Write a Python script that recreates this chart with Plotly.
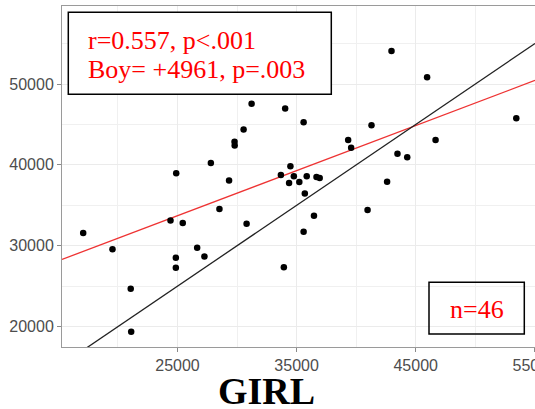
import numpy as np
import plotly.graph_objects as go

# Paired incomes: girl (x) vs boy (y)
girl = [17080, 19540, 21070, 21110, 24410, 24860, 24860, 24890, 25440, 26650,
        27260, 27800, 27790, 28520, 29330, 29790, 29800, 30550, 30800, 31220,
        33930, 33680, 34040, 34370, 34480, 34770, 35230, 35590, 35690, 35590,
        35850, 36410, 36460, 36670, 36940, 39330, 39580, 40960, 41290, 42600,
        42970, 43470, 44290, 45960, 46670, 53450]
boy = [31560, 29580, 24670, 19350, 33130, 28500, 27270, 38950, 32800, 29740,
       28680, 40220, 57670, 34530, 38060, 42860, 42410, 44390, 32710, 47550,
       27350, 38740, 46970, 37770, 39830, 38580, 37870, 45260, 36450, 31720,
       38580, 50290, 33700, 38490, 38370, 43090, 42120, 34410, 44890, 37910,
       54080, 41370, 40930, 50830, 43070, 45770]

# Fitted regression line and the y = x reference line
fit_intercept = 19774
fit_slope = 0.5576
identity_slope = 1.0

x_range = [15300, 55020]
y_range = [17475, 59650]

stats_line1 = "r=0.557, p<.001"
stats_line2 = "Boy= +4961, p=.003"
n_label = "n=46"
x_title = "GIRL"

W, H = 535, 409
L, R, T, B = 62, 0, 6, 62
pw, ph = W - L - R, H - T - B


def px(xp):
    return (xp - L) / pw


def py(yp):
    return (H - B - yp) / ph


xs = np.array(x_range, dtype=float)

fig = go.Figure()
fig.add_trace(go.Scatter(
    x=xs, y=fit_intercept + fit_slope * xs, mode="lines",
    line=dict(color="#ee3333", width=1.3), hoverinfo="skip", showlegend=False))
fig.add_trace(go.Scatter(
    x=xs, y=identity_slope * xs, mode="lines",
    line=dict(color="#222222", width=1.3), hoverinfo="skip", showlegend=False))
fig.add_trace(go.Scatter(
    x=girl, y=boy, mode="markers",
    marker=dict(color="black", size=6.5), showlegend=False))

axis_common = dict(
    showgrid=True, gridcolor="#EBEBEB", gridwidth=1.1,
    showline=True, linecolor="#9a9a9a", linewidth=1, mirror=True,
    ticks="outside", ticklen=4, tickcolor="#8a8a8a", tickwidth=1,
    tickformat="d", ticklabeloverflow="allow", automargin=False,
    tickfont=dict(family="Liberation Sans, Arial, sans-serif", size=16, color="#4D4D4D"),
    zeroline=False,
)

fig.update_xaxes(range=x_range, tick0=25000, dtick=10000,
                 minor=dict(dtick=5000, tick0=25000, showgrid=True,
                            gridcolor="#F0F0F0", gridwidth=0.7, ticks=""),
                 **axis_common)
fig.update_yaxes(range=y_range, tick0=20000, dtick=10000,
                 minor=dict(dtick=5000, tick0=20000, showgrid=True,
                            gridcolor="#F0F0F0", gridwidth=0.7, ticks=""),
                 **axis_common)

serif = "Liberation Serif, Times New Roman, serif"
fig.update_layout(
    width=W, height=H,
    margin=dict(l=L, r=R, t=T, b=B),
    paper_bgcolor="white", plot_bgcolor="white",
    shapes=[
        dict(type="rect", xref="paper", yref="paper",
             x0=px(68.3), x1=px(331.3), y0=py(94.3), y1=py(12.3),
             line=dict(color="black", width=1.5), fillcolor="white", layer="above"),
        dict(type="rect", xref="paper", yref="paper",
             x0=px(429), x1=px(524.3), y0=py(334), y1=py(282.3),
             line=dict(color="black", width=1.5), fillcolor="rgba(0,0,0,0)", layer="above"),
    ],
    annotations=[
        dict(text=stats_line1, xref="paper", yref="paper", x=px(86), y=py(40),
             xanchor="left", yanchor="middle", showarrow=False,
             font=dict(family=serif, size=26, color="red")),
        dict(text=stats_line2, xref="paper", yref="paper", x=px(86), y=py(69.5),
             xanchor="left", yanchor="middle", showarrow=False,
             font=dict(family=serif, size=26, color="red")),
        dict(text=n_label, xref="paper", yref="paper", x=px(476.5), y=py(309),
             xanchor="center", yanchor="middle", showarrow=False,
             font=dict(family=serif, size=26, color="red")),
        dict(text="<b>" + x_title + "</b>", xref="paper", yref="paper", x=px(266), y=py(391),
             xanchor="center", yanchor="middle", showarrow=False,
             font=dict(family=serif, size=38, color="black")),
    ],
)

fig.write_html("out.html")
